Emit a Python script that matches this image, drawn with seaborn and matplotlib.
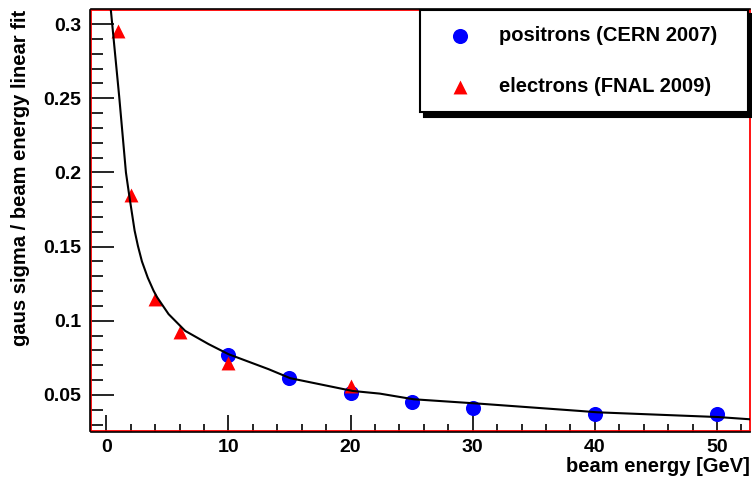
import matplotlib
matplotlib.use("Agg")
import matplotlib.pyplot as plt
from matplotlib.patches import Rectangle
from matplotlib.ticker import MultipleLocator
import seaborn as sns
import pandas as pd

# ---- data ----
pos_energy = [10, 15, 20, 25, 30, 40, 50]
pos_sigma = [0.0770, 0.0617, 0.0516, 0.0453, 0.0410, 0.0374, 0.0370]

ele_energy = [1, 2, 4, 6, 10, 20]
ele_sigma = [0.2955, 0.1845, 0.1150, 0.0921, 0.0716, 0.0561]

fit_energy = [0.38, 1.06, 1.61, 1.88, 2.32, 2.59, 2.92, 3.4, 3.87, 4.15, 5.10,
              6.46, 8.37, 10.0, 13.28, 15.06, 20.16, 22.4, 25.15, 30.6, 38.8,
              40.2, 50.1, 52.7]
fit_sigma = [0.309, 0.251, 0.200, 0.1845, 0.1608, 0.1505, 0.1400, 0.1290,
             0.1203, 0.1160, 0.1045, 0.0932, 0.0843, 0.0775, 0.0674, 0.0613,
             0.0527, 0.0509, 0.0471, 0.0441, 0.0392, 0.0383, 0.0351, 0.0336]

pos_label = "positrons (CERN 2007)"
ele_label = "electrons (FNAL 2009)"
x_title = "beam energy [GeV]"
y_title = "gaus sigma / beam energy linear fit"

plt.rcParams["font.family"] = ["Liberation Sans", "DejaVu Sans"]
plt.rcParams["font.weight"] = "bold"

pos_df = pd.DataFrame({"E": pos_energy, "s": pos_sigma})
ele_df = pd.DataFrame({"E": ele_energy, "s": ele_sigma})
fit_df = pd.DataFrame({"E": fit_energy, "s": fit_sigma})

fig = plt.figure(figsize=(7.52, 4.80), dpi=100)
ax = fig.add_axes([91 / 752, 1 - 431 / 480, (750 - 91) / 752, (431 - 10) / 480])

sns.scatterplot(data=pos_df, x="E", y="s", ax=ax, color="#0000ff", marker="o",
                s=118, linewidth=0, label=pos_label, zorder=3)
sns.scatterplot(data=ele_df, x="E", y="s", ax=ax, color="#ff0000", marker="^",
                s=100, linewidth=0, label=ele_label, zorder=3.5)
sns.lineplot(data=fit_df, x="E", y="s", ax=ax, color="black", linewidth=1.5,
             sort=False, estimator=None, zorder=4)

ax.set_xlim(-1.25, 52.7)
ax.set_ylim(0.0257, 0.3095)

ax.xaxis.set_major_locator(MultipleLocator(10))
ax.xaxis.set_minor_locator(MultipleLocator(2))
ax.yaxis.set_major_locator(MultipleLocator(0.05))
ax.yaxis.set_minor_locator(MultipleLocator(0.01))
ax.set_yticks([0.05, 0.1, 0.15, 0.2, 0.25, 0.3])
ax.set_yticklabels(["0.05", "0.1", "0.15", "0.2", "0.25", "0.3"])

ax.tick_params(axis="both", which="both", direction="in", colors="black",
               labelsize=14, width=1.2)
ax.tick_params(axis="y", which="major", length=17, pad=6)
ax.tick_params(axis="y", which="minor", length=9)
ax.tick_params(axis="x", which="major", length=12, pad=5)
ax.tick_params(axis="x", which="minor", length=6)
for lab in ax.get_xticklabels() + ax.get_yticklabels():
    lab.set_fontweight("bold")

for side in ["left", "top", "bottom"]:
    ax.spines[side].set_color("black")
    ax.spines[side].set_linewidth(1.2)
    ax.spines[side].set_position(("outward", 1))
ax.spines["right"].set_visible(False)
ax.add_patch(Rectangle((0, 0), 1, 1, transform=ax.transAxes, fill=False,
                       edgecolor="#ff0000", linewidth=1.3, clip_on=False,
                       zorder=2.5))

ax.set_xlabel(x_title, fontsize=14.5, fontweight="bold", loc="right")
ax.set_ylabel(y_title, fontsize=14.5, fontweight="bold", loc="top")
ax.xaxis.set_label_coords(1.0, -0.062)
ax.yaxis.set_label_coords(-0.092, 1.0)

leg = ax.legend(loc="upper left", bbox_to_anchor=(0.4992, 0.0, 0.4977, 1.0),
                mode="expand", borderaxespad=0, fontsize=14.5, frameon=True,
                fancybox=False, framealpha=1, edgecolor="black",
                borderpad=0.8, labelspacing=1.6, handlelength=2.4,
                handletextpad=0.7, scatterpoints=1,
                shadow={"ox": 3, "oy": -3, "facecolor": "black",
                        "edgecolor": "black", "alpha": 1})
leg.get_frame().set_linewidth(1.5)
for t in leg.get_texts():
    t.set_fontweight("bold")
leg.set_zorder(10)

fig.savefig("out.png", dpi=100)
